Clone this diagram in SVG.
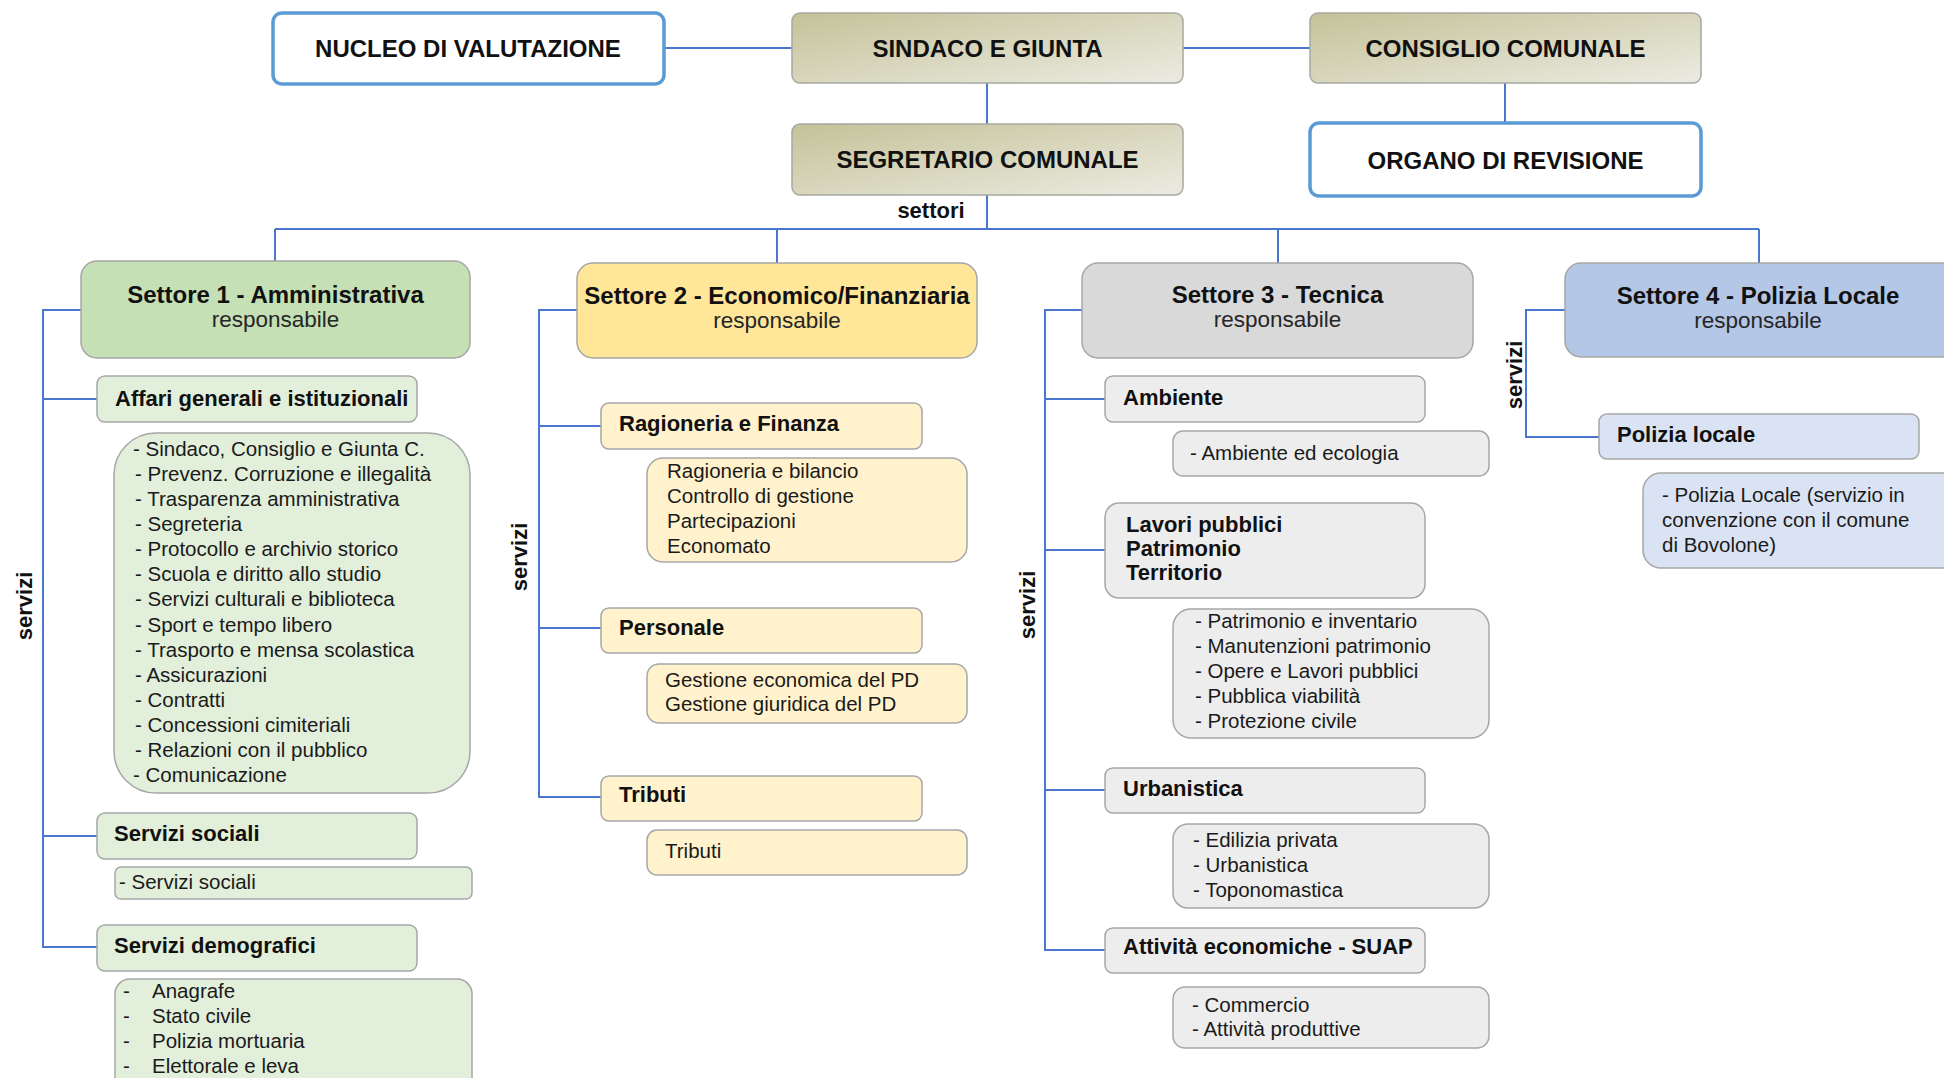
<svg xmlns="http://www.w3.org/2000/svg" width="1944" height="1078" viewBox="0 0 1944 1078">
<defs>
<linearGradient id="olive" x1="0" y1="0" x2="1" y2="1">
<stop offset="0" stop-color="#c4c298"/>
<stop offset="1" stop-color="#ecebe2"/>
</linearGradient>
<style>
text{font-family:"Liberation Sans",Arial,sans-serif;fill:#111}
.conn{stroke:#4a76d0;stroke-width:2;fill:none}
.top{fill:url(#olive);stroke:#a8a8a0;stroke-width:1.5}
.blue{fill:#fff;stroke:#5b9bd5;stroke-width:3.5}
.tt{font-size:24px;font-weight:bold;text-anchor:middle}
.st{font-size:24px;font-weight:bold;text-anchor:middle}
.rs{font-size:22.5px;text-anchor:middle;fill:#262626}
.lb{font-size:22px;font-weight:bold}
.li{font-size:20.5px;fill:#1a1a1a}
.sv{font-size:22px;font-weight:bold;text-anchor:middle}
.box{stroke:#a6a6a6;stroke-width:1.5}
.g1{fill:#c5e0b4}.g1s{fill:#e2efda}
.y1{fill:#ffe699}.y1s{fill:#fff2cc}
.r1{fill:#d9d9d9}.r1s{fill:#ededed}
.b1{fill:#b4c7e7}.b1s{fill:#dae3f3}
</style>
</defs>
<rect width="1944" height="1078" fill="#fff"/>

<g id="connectors">
<path class="conn" d="M664,48 H792 M1183,48 H1310 M987,83 V124 M1505,83 V123 M987,195 V229 M275,229 H1759 M275,229 V261 M777,229 V263 M1278,229 V263 M1759,229 V263"/>
<path class="conn" d="M81,310 H43 V947 H97 M43,399 H97 M43,836 H97"/>
<path class="conn" d="M577,310 H539 V797 H601 M539,426 H601 M539,628 H601"/>
<path class="conn" d="M1082,310 H1045 V950 H1105 M1045,399 H1105 M1045,550 H1105 M1045,790 H1105"/>
<path class="conn" d="M1565,310 H1526 V437 H1599"/>
</g>

<g id="nucleo"><rect class="blue" x="273" y="13" width="391" height="71" rx="9"/><text class="tt" x="468" y="57">NUCLEO DI VALUTAZIONE</text></g>
<g id="sindaco"><rect class="top" x="792" y="13" width="391" height="70" rx="8"/><text class="tt" x="987.5" y="57">SINDACO E GIUNTA</text></g>
<g id="consiglio"><rect class="top" x="1310" y="13" width="391" height="70" rx="8"/><text class="tt" x="1505.5" y="57">CONSIGLIO COMUNALE</text></g>
<g id="segretario"><rect class="top" x="792" y="124" width="391" height="71" rx="8"/><text class="tt" x="987.5" y="168">SEGRETARIO COMUNALE</text></g>
<g id="organo"><rect class="blue" x="1310" y="123" width="391" height="73" rx="9"/><text class="tt" x="1505.5" y="169">ORGANO DI REVISIONE</text></g>
<g id="settori-label"><text class="sv" x="931" y="218">settori</text></g>

<g id="settore1">
<rect class="box g1" x="81" y="261" width="389" height="97" rx="16"/>
<text class="st" x="275.5" y="303">Settore 1 - Amministrativa</text>
<text class="rs" x="275.5" y="327">responsabile</text>
<text class="sv" transform="translate(32,606) rotate(-90)">servizi</text>
</g>
<g id="affari">
<rect class="box g1s" x="97" y="376" width="320" height="46" rx="8"/>
<text class="lb" x="115" y="406">Affari generali e istituzionali</text>
</g>
<g id="affari-servizi">
<rect class="box g1s" x="114" y="433" width="356" height="360" rx="42"/>
<text class="li" x="133" y="456">- Sindaco, Consiglio e Giunta C.</text>
<text class="li" x="135" y="481">- Prevenz. Corruzione e illegalità</text>
<text class="li" x="135" y="506">- Trasparenza amministrativa</text>
<text class="li" x="135" y="531">- Segreteria</text>
<text class="li" x="135" y="556">- Protocollo e archivio storico</text>
<text class="li" x="135" y="581">- Scuola e diritto allo studio</text>
<text class="li" x="135" y="606">- Servizi culturali e biblioteca</text>
<text class="li" x="135" y="632">- Sport e tempo libero</text>
<text class="li" x="135" y="657">- Trasporto e mensa scolastica</text>
<text class="li" x="135" y="682">- Assicurazioni</text>
<text class="li" x="135" y="707">- Contratti</text>
<text class="li" x="135" y="732">- Concessioni cimiteriali</text>
<text class="li" x="135" y="757">- Relazioni con il pubblico</text>
<text class="li" x="133" y="782">- Comunicazione</text>
</g>
<g id="sociali">
<rect class="box g1s" x="97" y="813" width="320" height="46" rx="8"/>
<text class="lb" x="114" y="841">Servizi sociali</text>
</g>
<g id="sociali-servizi">
<rect class="box g1s" x="115" y="867" width="357" height="32" rx="6"/>
<text class="li" x="119" y="889">- Servizi sociali</text>
</g>
<g id="demografici">
<rect class="box g1s" x="97" y="925" width="320" height="46" rx="8"/>
<text class="lb" x="114" y="953">Servizi demografici</text>
</g>
<g id="demografici-servizi">
<rect class="box g1s" x="115" y="979" width="357" height="130" rx="15"/>
<text class="li" x="123" y="998">-</text><text class="li" x="152" y="998">Anagrafe</text>
<text class="li" x="123" y="1023">-</text><text class="li" x="152" y="1023">Stato civile</text>
<text class="li" x="123" y="1048">-</text><text class="li" x="152" y="1048">Polizia mortuaria</text>
<text class="li" x="123" y="1073">-</text><text class="li" x="152" y="1073">Elettorale e leva</text>
</g>

<g id="settore2">
<rect class="box y1" x="577" y="263" width="400" height="95" rx="16"/>
<text class="st" x="777" y="304">Settore 2 - Economico/Finanziaria</text>
<text class="rs" x="777" y="328">responsabile</text>
<text class="sv" transform="translate(527,557) rotate(-90)">servizi</text>
</g>
<g id="ragioneria">
<rect class="box y1s" x="601" y="403" width="321" height="46" rx="8"/>
<text class="lb" x="619" y="431">Ragioneria e Finanza</text>
</g>
<g id="ragioneria-servizi">
<rect class="box y1s" x="647" y="458" width="320" height="104" rx="16"/>
<text class="li" x="667" y="478">Ragioneria e bilancio</text>
<text class="li" x="667" y="503">Controllo di gestione</text>
<text class="li" x="667" y="528">Partecipazioni</text>
<text class="li" x="667" y="553">Economato</text>
</g>
<g id="personale">
<rect class="box y1s" x="601" y="608" width="321" height="45" rx="8"/>
<text class="lb" x="619" y="635">Personale</text>
</g>
<g id="personale-servizi">
<rect class="box y1s" x="647" y="664" width="320" height="59" rx="12"/>
<text class="li" x="665" y="687">Gestione economica del PD</text>
<text class="li" x="665" y="711">Gestione giuridica del PD</text>
</g>
<g id="tributi">
<rect class="box y1s" x="601" y="776" width="321" height="45" rx="8"/>
<text class="lb" x="619" y="802">Tributi</text>
</g>
<g id="tributi-servizi">
<rect class="box y1s" x="647" y="830" width="320" height="45" rx="10"/>
<text class="li" x="665" y="858">Tributi</text>
</g>

<g id="settore3">
<rect class="box r1" x="1082" y="263" width="391" height="95" rx="16"/>
<text class="st" x="1277.5" y="303">Settore 3 - Tecnica</text>
<text class="rs" x="1277.5" y="327">responsabile</text>
<text class="sv" transform="translate(1035,605) rotate(-90)">servizi</text>
</g>
<g id="ambiente">
<rect class="box r1s" x="1105" y="376" width="320" height="46" rx="8"/>
<text class="lb" x="1123" y="405">Ambiente</text>
</g>
<g id="ambiente-servizi">
<rect class="box r1s" x="1173" y="431" width="316" height="45" rx="10"/>
<text class="li" x="1190" y="460">- Ambiente ed ecologia</text>
</g>
<g id="lavori">
<rect class="box r1s" x="1105" y="503" width="320" height="95" rx="14"/>
<text class="lb" x="1126" y="532">Lavori pubblici</text>
<text class="lb" x="1126" y="556">Patrimonio</text>
<text class="lb" x="1126" y="580">Territorio</text>
</g>
<g id="lavori-servizi">
<rect class="box r1s" x="1173" y="609" width="316" height="129" rx="18"/>
<text class="li" x="1195" y="628">- Patrimonio e inventario</text>
<text class="li" x="1195" y="653">- Manutenzioni patrimonio</text>
<text class="li" x="1195" y="678">- Opere e Lavori pubblici</text>
<text class="li" x="1195" y="703">- Pubblica viabilità</text>
<text class="li" x="1195" y="728">- Protezione civile</text>
</g>
<g id="urbanistica">
<rect class="box r1s" x="1105" y="768" width="320" height="45" rx="8"/>
<text class="lb" x="1123" y="796">Urbanistica</text>
</g>
<g id="urbanistica-servizi">
<rect class="box r1s" x="1173" y="824" width="316" height="84" rx="15"/>
<text class="li" x="1193" y="847">- Edilizia privata</text>
<text class="li" x="1193" y="872">- Urbanistica</text>
<text class="li" x="1193" y="897">- Toponomastica</text>
</g>
<g id="attivita">
<rect class="box r1s" x="1105" y="928" width="320" height="45" rx="8"/>
<text class="lb" x="1123" y="954">Attività economiche - SUAP</text>
</g>
<g id="attivita-servizi">
<rect class="box r1s" x="1173" y="987" width="316" height="61" rx="12"/>
<text class="li" x="1192" y="1012">- Commercio</text>
<text class="li" x="1192" y="1036">- Attività produttive</text>
</g>

<g id="settore4">
<rect class="box b1" x="1565" y="263" width="420" height="94" rx="16"/>
<text class="st" x="1758" y="304">Settore 4 - Polizia Locale</text>
<text class="rs" x="1758" y="328">responsabile</text>
<text class="sv" transform="translate(1522,375) rotate(-90)">servizi</text>
</g>
<g id="polizia">
<rect class="box b1s" x="1599" y="414" width="320" height="45" rx="8"/>
<text class="lb" x="1617" y="442">Polizia locale</text>
</g>
<g id="polizia-servizi">
<rect class="box b1s" x="1643" y="473" width="340" height="95" rx="18"/>
<text class="li" x="1662" y="502">- Polizia Locale (servizio in</text>
<text class="li" x="1662" y="527">convenzione con il comune</text>
<text class="li" x="1662" y="552">di Bovolone)</text>
</g>
</svg>
